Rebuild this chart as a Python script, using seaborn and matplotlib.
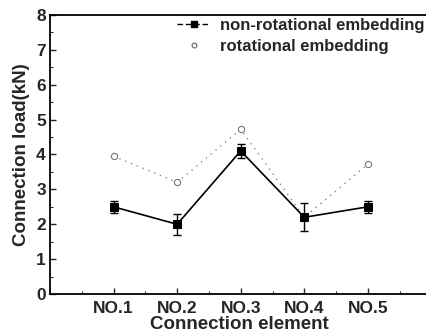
import matplotlib
matplotlib.use("Agg")
import matplotlib.pyplot as plt
import seaborn as sns
import pandas as pd
import numpy as np
from matplotlib.lines import Line2D
from matplotlib.ticker import MultipleLocator

categories = ["NO.1", "NO.2", "NO.3", "NO.4", "NO.5"]
non_rot = [2.5, 2.0, 4.1, 2.2, 2.5]
non_rot_err = [0.18, 0.3, 0.2, 0.4, 0.18]
rot = [3.95, 3.2, 4.72, 2.2, 3.72]

sns.set_theme(style="ticks")
plt.rcParams['font.family'] = ['Liberation Sans', 'DejaVu Sans']
plt.rcParams['font.weight'] = 'bold'

pos = np.arange(1, len(categories) + 1)
df = pd.DataFrame({"pos": np.concatenate([pos, pos]),
                   "load": non_rot + rot,
                   "series": ["non-rotational embedding"] * 5 + ["rotational embedding"] * 5})

fig = plt.figure(figsize=(4.27, 3.35), dpi=100)
ax = fig.add_axes([0.117, 0.122, 0.886, 0.834])

sns.lineplot(data=df[df.series == "rotational embedding"], x="pos", y="load", ax=ax,
             color="#8a8a8a", linestyle=(0, (1, 3.5)), linewidth=1.0,
             marker="o", markersize=4.5, markerfacecolor="white",
             markeredgecolor="#777777", markeredgewidth=0.8, legend=False)
sns.lineplot(data=df[df.series == "non-rotational embedding"], x="pos", y="load", ax=ax,
             color="black", linewidth=1.2, marker="s", markersize=6,
             markeredgecolor="black", legend=False)
ax.errorbar(pos, non_rot, yerr=non_rot_err, fmt="none", ecolor="black",
            elinewidth=1.0, capsize=3, capthick=1.0)

ax.set_xlim(0, 5.95)
ax.set_ylim(0, 8)
ax.set_xticks(pos)
ax.set_xticklabels(categories)
ax.xaxis.set_minor_locator(MultipleLocator(0.5))
ax.yaxis.set_major_locator(MultipleLocator(1))
ax.yaxis.set_minor_locator(MultipleLocator(0.5))
ax.tick_params(axis="both", which="major", direction="in", length=4, width=1.0,
               labelsize=12.5, pad=3)
ax.tick_params(axis="x", which="major", pad=5)
ax.tick_params(axis="both", which="minor", direction="in", length=2, width=0.8)
for lab in ax.get_xticklabels() + ax.get_yticklabels():
    lab.set_fontweight("bold")

ax.set_xlabel("Connection element", fontsize=13.5, fontweight="bold", labelpad=0)
ax.set_ylabel("Connection load(kN)", fontsize=13.5, fontweight="bold", labelpad=4)

for s in ["left", "bottom", "top"]:
    ax.spines[s].set_linewidth(1.3)
    ax.spines[s].set_color("black")
ax.spines["right"].set_visible(False)

handles = [Line2D([0], [0], color="black", linestyle=(0, (4, 2)), linewidth=1.0,
                  marker="s", markersize=4, markerfacecolor="black"),
           Line2D([0], [0], color="none", marker="o", markersize=3.5,
                  markerfacecolor="white", markeredgecolor="#666666", markeredgewidth=0.8)]
leg = ax.legend(handles, ["non-rotational embedding", "rotational embedding"],
                loc="upper left", bbox_to_anchor=(0.305, 1.03), frameon=False,
                prop={"weight": "bold", "size": 12}, handlelength=2.0,
                handletextpad=0.6, labelspacing=0.35, borderpad=0.2)

fig.savefig("out.png", dpi=100)
